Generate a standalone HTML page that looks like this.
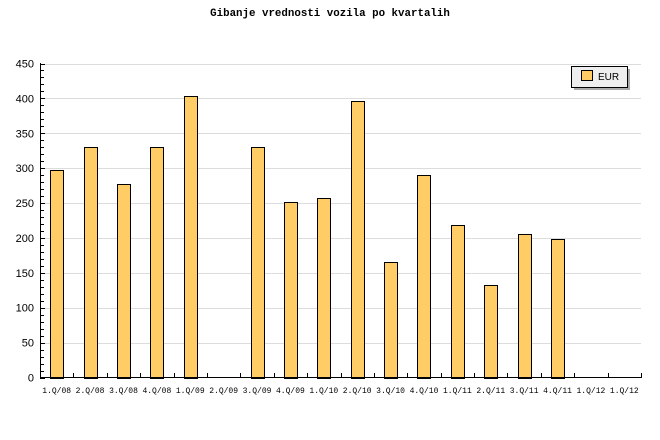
<!DOCTYPE html>
<html><head><meta charset="utf-8"><style>body{margin:0;background:#fff}svg{display:block}</style></head><body>
<svg width="660" height="440" xmlns="http://www.w3.org/2000/svg" shape-rendering="crispEdges">
<rect width="660" height="440" fill="#fff"/>
<text x="330" y="16" text-anchor="middle" font-family="Liberation Mono, monospace" font-weight="bold" font-size="10.8">Gibanje vrednosti vozila po kvartalih</text>
<g id="grid" stroke="#dcdcdc" stroke-width="1"></g>
<g fill="#ffcc66" stroke="#000" stroke-width="1">
<rect x="50.5" y="170.5" width="13" height="208"/>
<rect x="84.5" y="147.5" width="13" height="231"/>
<rect x="117.5" y="184.5" width="13" height="194"/>
<rect x="150.5" y="147.5" width="13" height="231"/>
<rect x="184.5" y="96.5" width="13" height="282"/>
<rect x="251.5" y="147.5" width="13" height="231"/>
<rect x="284.5" y="202.5" width="13" height="176"/>
<rect x="317.5" y="198.5" width="13" height="180"/>
<rect x="351.5" y="101.5" width="13" height="277"/>
<rect x="384.5" y="262.5" width="13" height="116"/>
<rect x="417.5" y="175.5" width="13" height="203"/>
<rect x="451.5" y="225.5" width="13" height="153"/>
<rect x="484.5" y="285.5" width="13" height="93"/>
<rect x="518.5" y="234.5" width="13" height="144"/>
<rect x="551.5" y="239.5" width="13" height="139"/>
</g>
<g id="axes" stroke="#000"></g>
<g id="ylab" font-family="Liberation Sans, sans-serif" font-size="11" text-anchor="end"></g>
<g id="xlab" font-family="Liberation Mono, monospace" font-size="8" text-anchor="middle"></g>
<rect x="574" y="69" width="56" height="21" fill="#aaa"/>
<rect x="571.5" y="66.5" width="56" height="21" fill="#eee" stroke="#000"/>
<rect x="581.5" y="70.5" width="11" height="10" fill="#ffcc66" stroke="#000"/>
<text x="598" y="80" font-family="Liberation Sans, sans-serif" font-size="10">EUR</text>
<script>
var ns="http://www.w3.org/2000/svg";
function el(p,t,a,txt){var e=document.createElementNS(ns,t);for(var k in a)e.setAttribute(k,a[k]);if(txt!=null)e.textContent=txt;document.getElementById(p).appendChild(e);}
var y0=377.5,s=314/450;
for(var v=50;v<=450;v+=50){var y=Math.round(y0-v*s)+0.5;el("grid","line",{x1:40,x2:641,y1:y,y2:y});}
for(var v=0;v<=450;v+=50){var y=y0-v*s;el("ylab","text",{x:34,y:y+4},String(v));}
for(var v=0;v<=450;v+=10){var y=Math.round(y0-v*s)+0.5;el("axes","line",{x1:40,x2:v%50==0?45:44,y1:y,y2:y});}
var labs=["1.Q/08","2.Q/08","3.Q/08","4.Q/08","1.Q/09","2.Q/09","3.Q/09","4.Q/09","1.Q/10","2.Q/10","3.Q/10","4.Q/10","1.Q/11","2.Q/11","3.Q/11","4.Q/11","1.Q/12","1.Q/12"];
var cw=601/18;
for(var i=0;i<18;i++){var c=40+cw*(i+0.5);
 el("xlab","text",{x:c,y:393},labs[i]);
 var tx=Math.round(40+cw*(i+1))+0.5;el("axes","line",{x1:tx,x2:tx,y1:373,y2:378});}
el("axes","line",{x1:40.5,x2:40.5,y1:63,y2:378});
el("axes","line",{x1:40,x2:641,y1:377.5,y2:377.5});
</script>
</svg>
</body></html>
